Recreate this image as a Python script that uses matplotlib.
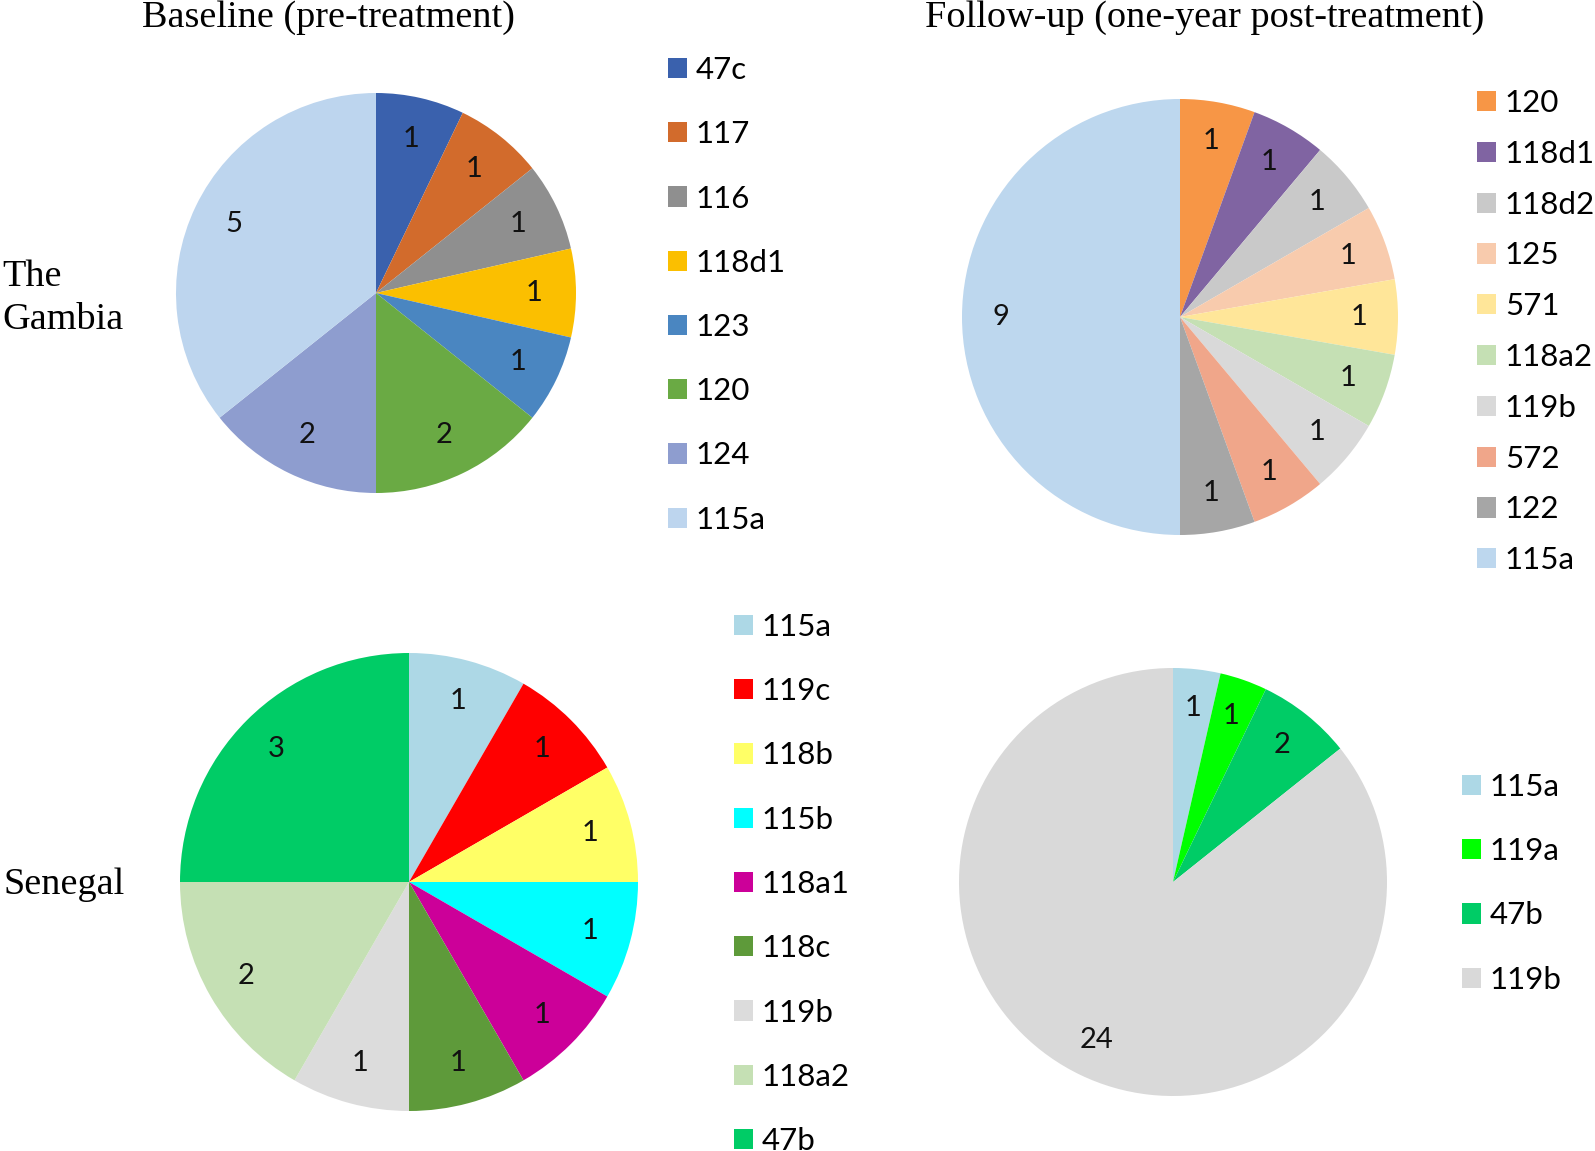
import matplotlib
matplotlib.use("Agg")
import matplotlib.pyplot as plt

# --- data ---
gam_base_labels = ["47c", "117", "116", "118d1", "123", "120", "124", "115a"]
gam_base_counts = [1, 1, 1, 1, 1, 2, 2, 5]
gam_base_colors = ["#3A61AD", "#D26B2C", "#8F8F8F", "#FBBF00", "#4A86C1", "#6AAA44", "#8E9DCF", "#BDD5EE"]

gam_fu_labels = ["120", "118d1", "118d2", "125", "571", "118a2", "119b", "572", "122", "115a"]
gam_fu_counts = [1, 1, 1, 1, 1, 1, 1, 1, 1, 9]
gam_fu_colors = ["#F79646", "#8064A2", "#C9C9C9", "#F8CBAD", "#FFE699", "#C5E0B4", "#D9D9D9", "#F0A68A", "#A6A6A6", "#BDD7EE"]

sen_base_labels = ["115a", "119c", "118b", "115b", "118a1", "118c", "119b", "118a2", "47b"]
sen_base_counts = [1, 1, 1, 1, 1, 1, 1, 2, 3]
sen_base_colors = ["#ADD8E6", "#FF0000", "#FFFF66", "#00FFFF", "#CC0099", "#5E9A3A", "#DCDCDC", "#C5E0B4", "#00CC66"]

sen_fu_labels = ["115a", "119a", "47b", "119b"]
sen_fu_counts = [1, 1, 2, 24]
sen_fu_colors = ["#ADD8E6", "#00FF00", "#00CC66", "#D9D9D9"]

W, H = 1595, 1151
fig = plt.figure(figsize=(W / 100, H / 100), dpi=100)

SANS = ["Lato", "DejaVu Sans"]
SERIF = ["Liberation Serif", "DejaVu Serif"]


def draw_pie(cx, cy, r, counts, colors, labels, leg_x, leg_y, spacing, pctd=0.82):
    ax = fig.add_axes([(cx - r) / W, 1 - (cy + r) / H, 2 * r / W, 2 * r / H])
    total = sum(counts)
    wedges, texts, autotexts = ax.pie(
        counts, colors=colors, startangle=90, counterclock=False,
        autopct=lambda p: "%d" % round(p * total / 100.0),
        pctdistance=pctd, radius=1,
        textprops=dict(fontsize=21, family=SANS, color="#111111"),
    )
    ax.set_xlim(-1, 1)
    ax.set_ylim(-1, 1)
    fig.legend(wedges, labels, loc="upper left",
               bbox_to_anchor=(leg_x / W, 1 - leg_y / H),
               frameon=False, borderpad=0, borderaxespad=0,
               handlelength=0.62, handleheight=0.62, handletextpad=0.27,
               labelspacing=spacing, prop=dict(family=SANS, size=22.5))
    return ax


draw_pie(376, 293, 200, gam_base_counts, gam_base_colors, gam_base_labels, 668, 56, 1.16, pctd=0.79)
draw_pie(1180, 317, 218, gam_fu_counts, gam_fu_colors, gam_fu_labels, 1477, 89, 0.73)
draw_pie(409, 882, 229, sen_base_counts, sen_base_colors, sen_base_labels, 734, 613, 1.16)
draw_pie(1173, 882, 214, sen_fu_counts, sen_fu_colors, sen_fu_labels, 1462, 773, 1.16)

fig.text(328 / W, 1 - 18 / H, "Baseline (pre-treatment)", ha="center", va="center",
         family=SERIF, fontsize=27.5)
fig.text(1205 / W, 1 - 18 / H, "Follow-up (one-year post-treatment)", ha="center", va="center",
         family=SERIF, fontsize=27.5)
fig.text(2 / W, 1 - 298 / H, "The\nGambia", ha="left", va="center",
         family=SERIF, fontsize=27.5, linespacing=1.32)
fig.text(4 / W, 1 - 885 / H, "Senegal", ha="left", va="center",
         family=SERIF, fontsize=27.5)

fig.savefig("out.png", dpi=100, facecolor="white")
